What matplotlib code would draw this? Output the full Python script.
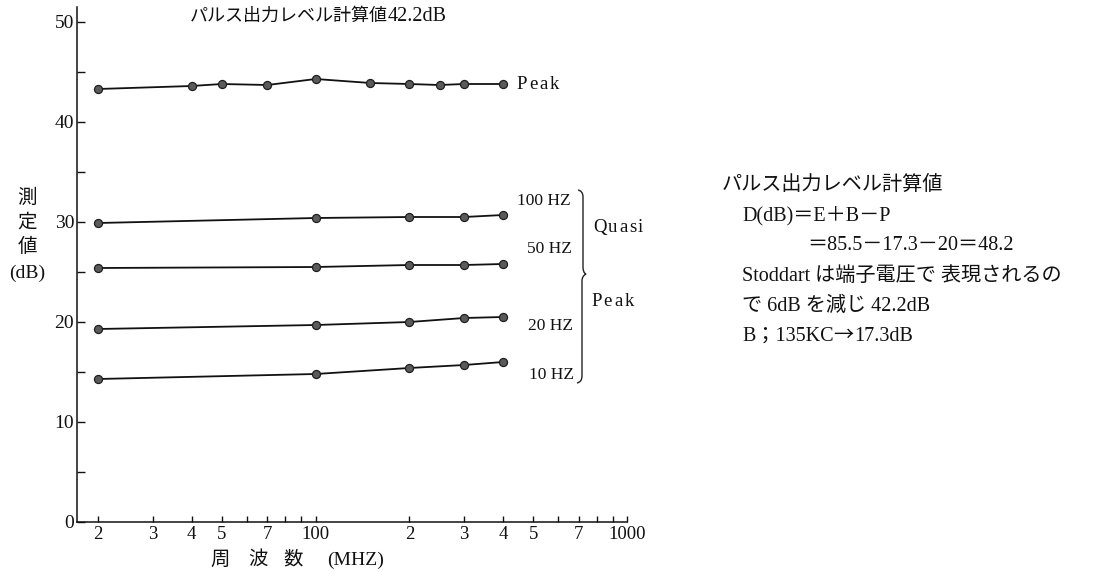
import matplotlib
matplotlib.use("Agg")
import matplotlib.pyplot as plt
from matplotlib.path import Path
from matplotlib.patches import PathPatch
from matplotlib.ticker import NullLocator

SERIF_JP = ['Liberation Serif', 'Noto Sans CJK JP']
plt.rcParams['font.family'] = SERIF_JP

# Measured levels (dB) against frequency (MHz)
freq_peak = [20, 40, 50, 70, 100, 150, 200, 250, 300, 400]
level_peak = [43.3, 43.6, 43.8, 43.7, 44.3, 43.9, 43.8, 43.7, 43.8, 43.8]

freq_rep = [20, 100, 200, 300, 400]
level_100hz = [29.9, 30.4, 30.5, 30.5, 30.7]
level_50hz = [25.4, 25.5, 25.7, 25.7, 25.8]
level_20hz = [19.3, 19.7, 20.0, 20.4, 20.5]
level_10hz = [14.3, 14.8, 15.4, 15.7, 16.0]

x_ticks = [20, 30, 40, 50, 60, 70, 80, 90, 100, 200, 300, 400, 500, 600, 700, 800, 900, 1000]
x_tick_labels = ['2', '3', '4', '5', '', '7', '', '', '100',
                 '2', '3', '4', '5', '', '7', '', '', '1000']
y_ticks = [0, 10, 20, 30, 40, 50]
y_minor = [5, 15, 25, 35, 45]

W, H = 1106, 572
fig = plt.figure(figsize=(W / 100, H / 100), dpi=100)
fig.patch.set_facecolor('white')
renderer = fig.canvas.get_renderer()
INK = '#111111'


def fx(x):
    return x / W


def fy(y):
    return 1 - y / H


def draw_runs(x_px, y_base, runs, spacing=0.0):
    """Lay out text runs left to right on a common baseline (pixel coords).
    Each run is (text, fontsize, family); spacing adds extra gap per glyph."""
    x = x_px
    for s, size, family in runs:
        pieces = list(s) if spacing else [s]
        for p in pieces:
            t = fig.text(fx(x), fy(y_base), p, ha='left', va='baseline',
                         fontsize=size, family=family, color=INK)
            x += t.get_window_extent(renderer).width + spacing
    return x


ax = fig.add_axes([fx(77), fy(522), 550 / W, 515 / H])
ax.set_xscale('log')
ax.set_xlim(17.13, 1000)
ax.set_ylim(0, 51.5)

line_kw = dict(color=INK, lw=1.3, marker='o', ms=5.8,
               mfc='#5a5a5a', mec='#1e1e1e', mew=0.9, zorder=3)
ax.plot(freq_peak, level_peak, **line_kw)
for lv in (level_100hz, level_50hz, level_20hz, level_10hz):
    ax.plot(freq_rep, lv, **line_kw)

ax.set_xticks(x_ticks, x_tick_labels)
ax.xaxis.set_minor_locator(NullLocator())
ax.set_yticks(y_ticks)
ax.set_yticks(y_minor, minor=True)
ax.tick_params(axis='x', which='major', direction='in', length=4.5, width=1.0,
               pad=3, labelsize=13.5, colors=INK)
ax.tick_params(axis='y', which='both', direction='in', length=6, width=1.0,
               pad=2, labelsize=14, colors=INK)
for s in ('top', 'right'):
    ax.spines[s].set_visible(False)
for s in ('left', 'bottom'):
    ax.spines[s].set_linewidth(1.1)
    ax.spines[s].set_color(INK)

# Series labels next to their last points
series_labels = [('100 HZ', level_100hz, 68, 14),
                 ('50 HZ', level_50hz, 69, 15),
                 ('20 HZ', level_20hz, 70, -9),
                 ('10 HZ', level_10hz, 71, -13)]
for lab, lv, dx, dy in series_labels:
    ax.annotate(lab, (freq_rep[-1], lv[-1]), xytext=(dx, dy),
                textcoords='offset pixels', ha='right', va='center',
                fontsize=12.5, color=INK)

# "Peak" beside the top curve, letter-spaced
fig.canvas.draw()
px_last = ax.transData.transform((freq_peak[-1], level_peak[-1]))
draw_runs(px_last[0] + 13, H - px_last[1] + 5, [('Peak', 13.5, SERIF_JP)], spacing=2.2)

# Grouping braces: Quasi (100/50 Hz) and Peak (20/10 Hz)
verts = [(578, 190), (583, 191), (583, 197),
         (583, 267),
         (583, 273), (586, 274),
         (582, 276), (582, 281),
         (582, 376),
         (582, 382), (577, 383)]
codes = [Path.MOVETO, Path.CURVE3, Path.CURVE3,
         Path.LINETO,
         Path.CURVE3, Path.CURVE3,
         Path.CURVE3, Path.CURVE3,
         Path.LINETO,
         Path.CURVE3, Path.CURVE3]
brace = Path([(fx(x), fy(y)) for x, y in verts], codes)
fig.add_artist(PathPatch(brace, transform=fig.transFigure, fill=False,
                         lw=1.0, ec='#222222'))
draw_runs(593, 232, [('Quasi', 13.5, SERIF_JP)], spacing=1.6)
draw_runs(591, 306, [('Peak', 13.5, SERIF_JP)], spacing=2.2)

# Title
draw_runs(190, 21, [('パルス出力レベル計算値', 13, SERIF_JP),
                    ('42.2dB', 14.5, SERIF_JP)])

# Y-axis label written vertically
for s, yy in [('測', 198), ('定', 223), ('値', 247), ('(dB)', 273)]:
    fig.text(fx(27), fy(yy), s, ha='center', va='center', fontsize=14, color=INK)

# X-axis label
for s, xx in [('周', 220), ('波', 258), ('数', 293), ('(MHZ)', 356)]:
    fig.text(fx(xx), fy(560), s, ha='center', va='center', fontsize=14, color=INK)

# Calculation notes
NOTE = 14.5
notes = [('パルス出力レベル計算値', 722, 190),
         ('D(dB)＝E＋B－P', 742, 220),
         ('＝85.5－17.3－20＝48.2', 807, 250),
         ('Stoddart は端子電圧で 表現されるの', 742, 281),
         ('で 6dB を減じ 42.2dB', 742, 311)]
for s, xx, yy in notes:
    draw_runs(xx, yy, [(s, NOTE, SERIF_JP)])
draw_runs(742, 341, [('B；135KC', NOTE, SERIF_JP),
                     ('→', NOTE, ['Noto Sans CJK JP']),
                     ('17.3dB', NOTE, SERIF_JP)])

fig.savefig('out.png', dpi=100, facecolor='white')
